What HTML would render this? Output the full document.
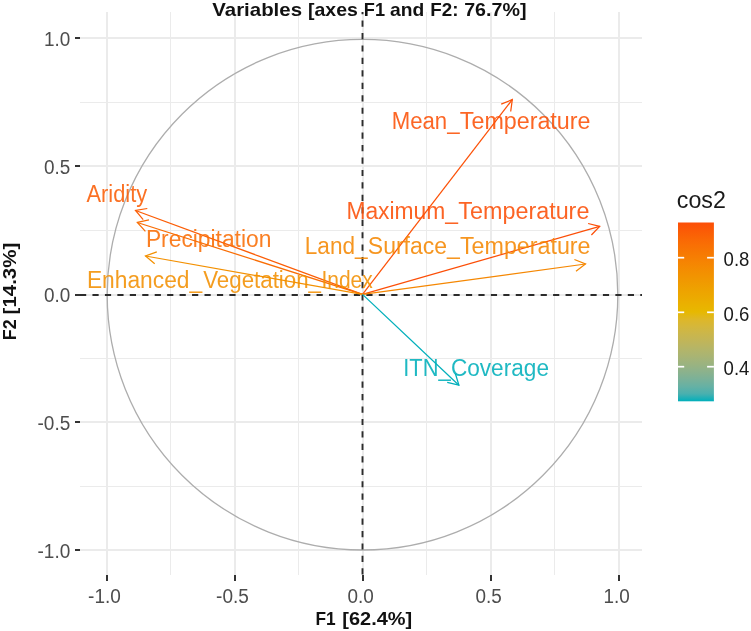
<!DOCTYPE html>
<html lang="en"><head><meta charset="utf-8">
<title>Variables - PCA correlation circle</title>
<style>
html,body{margin:0;padding:0;background:#fff;}
body{width:751px;height:631px;overflow:hidden;}
svg{display:block;}
text{font-family:"Liberation Sans",Arial,sans-serif;}
.tick{font-size:20.0px;fill:#4d4d4d;}
.lab{font-size:23.1px;fill-opacity:.88;}
.ttl{font-weight:bold;font-size:17.9px;fill:#111;}
</style></head><body>
<svg width="751" height="631" viewBox="0 0 751 631">
<rect width="751" height="631" fill="#fff"/>
<g stroke="#ebebeb" fill="none" shape-rendering="crispEdges">
<line x1="170.5" x2="170.5" y1="12.0" y2="574.5" stroke-width="1.1"/>
<line x1="80.0" x2="642.0" y1="486.4" y2="486.4" stroke-width="1.1"/>
<line x1="298.5" x2="298.5" y1="12.0" y2="574.5" stroke-width="1.1"/>
<line x1="80.0" x2="642.0" y1="358.4" y2="358.4" stroke-width="1.1"/>
<line x1="426.5" x2="426.5" y1="12.0" y2="574.5" stroke-width="1.1"/>
<line x1="80.0" x2="642.0" y1="230.4" y2="230.4" stroke-width="1.1"/>
<line x1="554.5" x2="554.5" y1="12.0" y2="574.5" stroke-width="1.1"/>
<line x1="80.0" x2="642.0" y1="102.4" y2="102.4" stroke-width="1.1"/>
<line x1="106.5" x2="106.5" y1="12.0" y2="574.5" stroke-width="2"/>
<line x1="80.0" x2="642.0" y1="550.4" y2="550.4" stroke-width="2"/>
<line x1="234.5" x2="234.5" y1="12.0" y2="574.5" stroke-width="2"/>
<line x1="80.0" x2="642.0" y1="422.4" y2="422.4" stroke-width="2"/>
<line x1="362.5" x2="362.5" y1="12.0" y2="574.5" stroke-width="2"/>
<line x1="80.0" x2="642.0" y1="295.0" y2="295.0" stroke-width="2"/>
<line x1="490.5" x2="490.5" y1="12.0" y2="574.5" stroke-width="2"/>
<line x1="80.0" x2="642.0" y1="166.4" y2="166.4" stroke-width="2"/>
<line x1="618.5" x2="618.5" y1="12.0" y2="574.5" stroke-width="2"/>
<line x1="80.0" x2="642.0" y1="38.4" y2="38.4" stroke-width="2"/>
</g>
<circle cx="362.5" cy="294.7" r="255.3" fill="none" stroke="#adadad" stroke-width="1.3"/>
<g stroke="#2c2c2c" stroke-width="1.9" fill="none" stroke-dasharray="6.2 6.25">
<line x1="80.0" y1="295.0" x2="642.0" y2="295.0"/>
<line x1="362.5" y1="574.5" x2="362.5" y2="12.0"/>
</g>
<g stroke="#FC5107" stroke-width="1.25" fill="none" stroke-linecap="butt" stroke-linejoin="miter">
<line x1="362.5" y1="294.4" x2="512.3" y2="99.6"/>
<polyline points="501.2,104.2 512.3,99.6 510.7,111.5"/>
</g>
<g stroke="#FC4E07" stroke-width="1.25" fill="none" stroke-linecap="butt" stroke-linejoin="miter">
<line x1="362.5" y1="294.4" x2="599.7" y2="226.4"/>
<polyline points="588.1,223.5 599.7,226.4 591.4,235.0"/>
</g>
<g stroke="#F58702" stroke-width="1.25" fill="none" stroke-linecap="butt" stroke-linejoin="miter">
<line x1="362.5" y1="294.4" x2="585.5" y2="264.0"/>
<polyline points="574.4,259.5 585.5,264.0 576.0,271.3"/>
</g>
<g stroke="#FB5D06" stroke-width="1.25" fill="none" stroke-linecap="butt" stroke-linejoin="miter">
<line x1="362.5" y1="294.4" x2="135.5" y2="210.5"/>
<polyline points="143.2,219.7 135.5,210.5 147.3,208.5"/>
</g>
<g stroke="#F96D04" stroke-width="1.25" fill="none" stroke-linecap="butt" stroke-linejoin="miter">
<line x1="362.5" y1="294.4" x2="137.3" y2="222.5"/>
<polyline points="145.4,231.4 137.3,222.5 149.0,219.9"/>
</g>
<g stroke="#F39001" stroke-width="1.25" fill="none" stroke-linecap="butt" stroke-linejoin="miter">
<line x1="362.5" y1="294.4" x2="145.5" y2="256.0"/>
<polyline points="154.7,263.7 145.5,256.0 156.8,251.9"/>
</g>
<g stroke="#00AFBB" stroke-width="1.25" fill="none" stroke-linecap="butt" stroke-linejoin="miter">
<line x1="362.5" y1="294.4" x2="458.9" y2="385.2"/>
<polyline points="455.4,373.7 458.9,385.2 447.2,382.4"/>
</g>
<text class="lab" y="128.8" fill="#FC5107"><tspan x="391.7" textLength="67.8" lengthAdjust="spacingAndGlyphs">Mean_</tspan><tspan x="459.8" textLength="130.7" lengthAdjust="spacingAndGlyphs">Temperature</tspan></text>
<text class="lab" y="219.4" fill="#FC4E07"><tspan x="346.4" textLength="111.6" lengthAdjust="spacingAndGlyphs">Maximum_</tspan><tspan x="458.3" textLength="131.1" lengthAdjust="spacingAndGlyphs">Temperature</tspan></text>
<text class="lab" y="253.5" fill="#F58702"><tspan x="304.8" textLength="62.8" lengthAdjust="spacingAndGlyphs">Land_</tspan><tspan x="367.8" textLength="92.0" lengthAdjust="spacingAndGlyphs">Surface_</tspan><tspan x="460.0" textLength="130.5" lengthAdjust="spacingAndGlyphs">Temperature</tspan></text>
<text class="lab" y="202.0" fill="#FB5D06"><tspan x="86.5" textLength="60.7" lengthAdjust="spacingAndGlyphs">Aridity</tspan></text>
<text class="lab" y="247.4" fill="#F96D04"><tspan x="145.9" textLength="125.5" lengthAdjust="spacingAndGlyphs">Precipitation</tspan></text>
<text class="lab" y="287.6" fill="#F39001"><tspan x="86.9" textLength="115.3" lengthAdjust="spacingAndGlyphs">Enhanced_</tspan><tspan x="203.2" textLength="117.8" lengthAdjust="spacingAndGlyphs">Vegetation_</tspan><tspan x="321.4" textLength="51.4" lengthAdjust="spacingAndGlyphs">Index</tspan></text>
<text class="lab" y="376.2" fill="#00AFBB"><tspan x="403.2" textLength="47.4" lengthAdjust="spacingAndGlyphs">ITN_</tspan><tspan x="450.9" textLength="98.1" lengthAdjust="spacingAndGlyphs">Coverage</tspan></text>
<g stroke="#333" stroke-width="2" shape-rendering="crispEdges">
<line x1="106.5" x2="106.5" y1="574.5" y2="581.0"/>
<line x1="74.5" x2="80.0" y1="550.4" y2="550.4"/>
<line x1="234.5" x2="234.5" y1="574.5" y2="581.0"/>
<line x1="74.5" x2="80.0" y1="422.4" y2="422.4"/>
<line x1="362.5" x2="362.5" y1="574.5" y2="581.0"/>
<line x1="74.5" x2="80.0" y1="295.0" y2="295.0"/>
<line x1="490.5" x2="490.5" y1="574.5" y2="581.0"/>
<line x1="74.5" x2="80.0" y1="166.4" y2="166.4"/>
<line x1="618.5" x2="618.5" y1="574.5" y2="581.0"/>
<line x1="74.5" x2="80.0" y1="38.4" y2="38.4"/>
</g>
<text class="tick" x="88.1" y="602.5" textLength="32.75" lengthAdjust="spacingAndGlyphs">-1.0</text>
<text class="tick" x="37.5" y="558.1" textLength="32.75" lengthAdjust="spacingAndGlyphs">-1.0</text>
<text class="tick" x="216.1" y="602.5" textLength="32.75" lengthAdjust="spacingAndGlyphs">-0.5</text>
<text class="tick" x="37.5" y="430.1" textLength="32.75" lengthAdjust="spacingAndGlyphs">-0.5</text>
<text class="tick" x="347.4" y="602.5" textLength="26.30" lengthAdjust="spacingAndGlyphs">0.0</text>
<text class="tick" x="44.0" y="302.1" textLength="26.30" lengthAdjust="spacingAndGlyphs">0.0</text>
<text class="tick" x="475.4" y="602.5" textLength="26.30" lengthAdjust="spacingAndGlyphs">0.5</text>
<text class="tick" x="44.0" y="174.1" textLength="26.30" lengthAdjust="spacingAndGlyphs">0.5</text>
<text class="tick" x="603.4" y="602.5" textLength="26.30" lengthAdjust="spacingAndGlyphs">1.0</text>
<text class="tick" x="44.0" y="46.1" textLength="26.30" lengthAdjust="spacingAndGlyphs">1.0</text>
<rect x="205" y="0" width="326" height="11.5" fill="#fff"/>
<text class="ttl" y="15.9"><tspan x="212.3" textLength="89.7" lengthAdjust="spacingAndGlyphs">Variables</tspan> <tspan x="308.0" textLength="49.8" lengthAdjust="spacingAndGlyphs">[axes</tspan> <tspan x="363.8" textLength="21.2" lengthAdjust="spacingAndGlyphs">F1</tspan> <tspan x="390.1" textLength="34.2" lengthAdjust="spacingAndGlyphs">and</tspan> <tspan x="430.3" textLength="28.2" lengthAdjust="spacingAndGlyphs">F2:</tspan> <tspan x="464.2" textLength="62.3" lengthAdjust="spacingAndGlyphs">76.7%]</tspan></text>
<text class="ttl" y="625.3"><tspan x="315.4" textLength="20.2" lengthAdjust="spacingAndGlyphs">F1</tspan> <tspan x="342.3" textLength="69.9" lengthAdjust="spacingAndGlyphs">[62.4%]</tspan></text>
<text class="ttl" y="0.0" transform="translate(15.9 0) rotate(-90)"><tspan x="-340.2" textLength="20.8" lengthAdjust="spacingAndGlyphs">F2</tspan> <tspan x="-314.4" textLength="71.6" lengthAdjust="spacingAndGlyphs">[14.3%]</tspan></text>
<defs><linearGradient id="cb" x1="0" y1="0" x2="0" y2="1">
<stop offset="0.0000" stop-color="#FC4E07"/>
<stop offset="0.0417" stop-color="#FB5A06"/>
<stop offset="0.0833" stop-color="#FA6505"/>
<stop offset="0.1250" stop-color="#F96F04"/>
<stop offset="0.1667" stop-color="#F77803"/>
<stop offset="0.2083" stop-color="#F68103"/>
<stop offset="0.2500" stop-color="#F48A02"/>
<stop offset="0.2917" stop-color="#F29201"/>
<stop offset="0.3333" stop-color="#F09A01"/>
<stop offset="0.3750" stop-color="#EEA200"/>
<stop offset="0.4167" stop-color="#ECA900"/>
<stop offset="0.4583" stop-color="#EAB100"/>
<stop offset="0.5000" stop-color="#E7B800"/>
<stop offset="0.5417" stop-color="#DEB728"/>
<stop offset="0.5833" stop-color="#D4B73C"/>
<stop offset="0.6250" stop-color="#CAB64C"/>
<stop offset="0.6667" stop-color="#C0B55A"/>
<stop offset="0.7083" stop-color="#B4B568"/>
<stop offset="0.7500" stop-color="#A8B474"/>
<stop offset="0.7917" stop-color="#9BB380"/>
<stop offset="0.8333" stop-color="#8CB28C"/>
<stop offset="0.8750" stop-color="#7BB198"/>
<stop offset="0.9167" stop-color="#66B1A4"/>
<stop offset="0.9583" stop-color="#49B0AF"/>
<stop offset="1.0000" stop-color="#00AFBB"/>
</linearGradient></defs>
<rect x="678.0" y="222.5" width="35.9" height="178.8" fill="url(#cb)"/>
<g stroke="#fff" stroke-width="1.7">
<line x1="678.0" x2="684.2" y1="257.7" y2="257.7"/>
<line x1="707.1" x2="713.9" y1="257.7" y2="257.7"/>
<line x1="678.0" x2="684.2" y1="312.3" y2="312.3"/>
<line x1="707.1" x2="713.9" y1="312.3" y2="312.3"/>
<line x1="678.0" x2="684.2" y1="366.7" y2="366.7"/>
<line x1="707.1" x2="713.9" y1="366.7" y2="366.7"/>
</g>
<text class="tick" style="fill:#1a1a1a" x="723.6" y="265.9" textLength="25.8" lengthAdjust="spacingAndGlyphs">0.8</text>
<text class="tick" style="fill:#1a1a1a" x="723.6" y="320.5" textLength="25.8" lengthAdjust="spacingAndGlyphs">0.6</text>
<text class="tick" style="fill:#1a1a1a" x="723.6" y="374.9" textLength="25.8" lengthAdjust="spacingAndGlyphs">0.4</text>
<text x="676.8" y="207.8" font-size="24.7px" fill="#1a1a1a" textLength="49.1" lengthAdjust="spacingAndGlyphs">cos2</text>
</svg></body></html>
